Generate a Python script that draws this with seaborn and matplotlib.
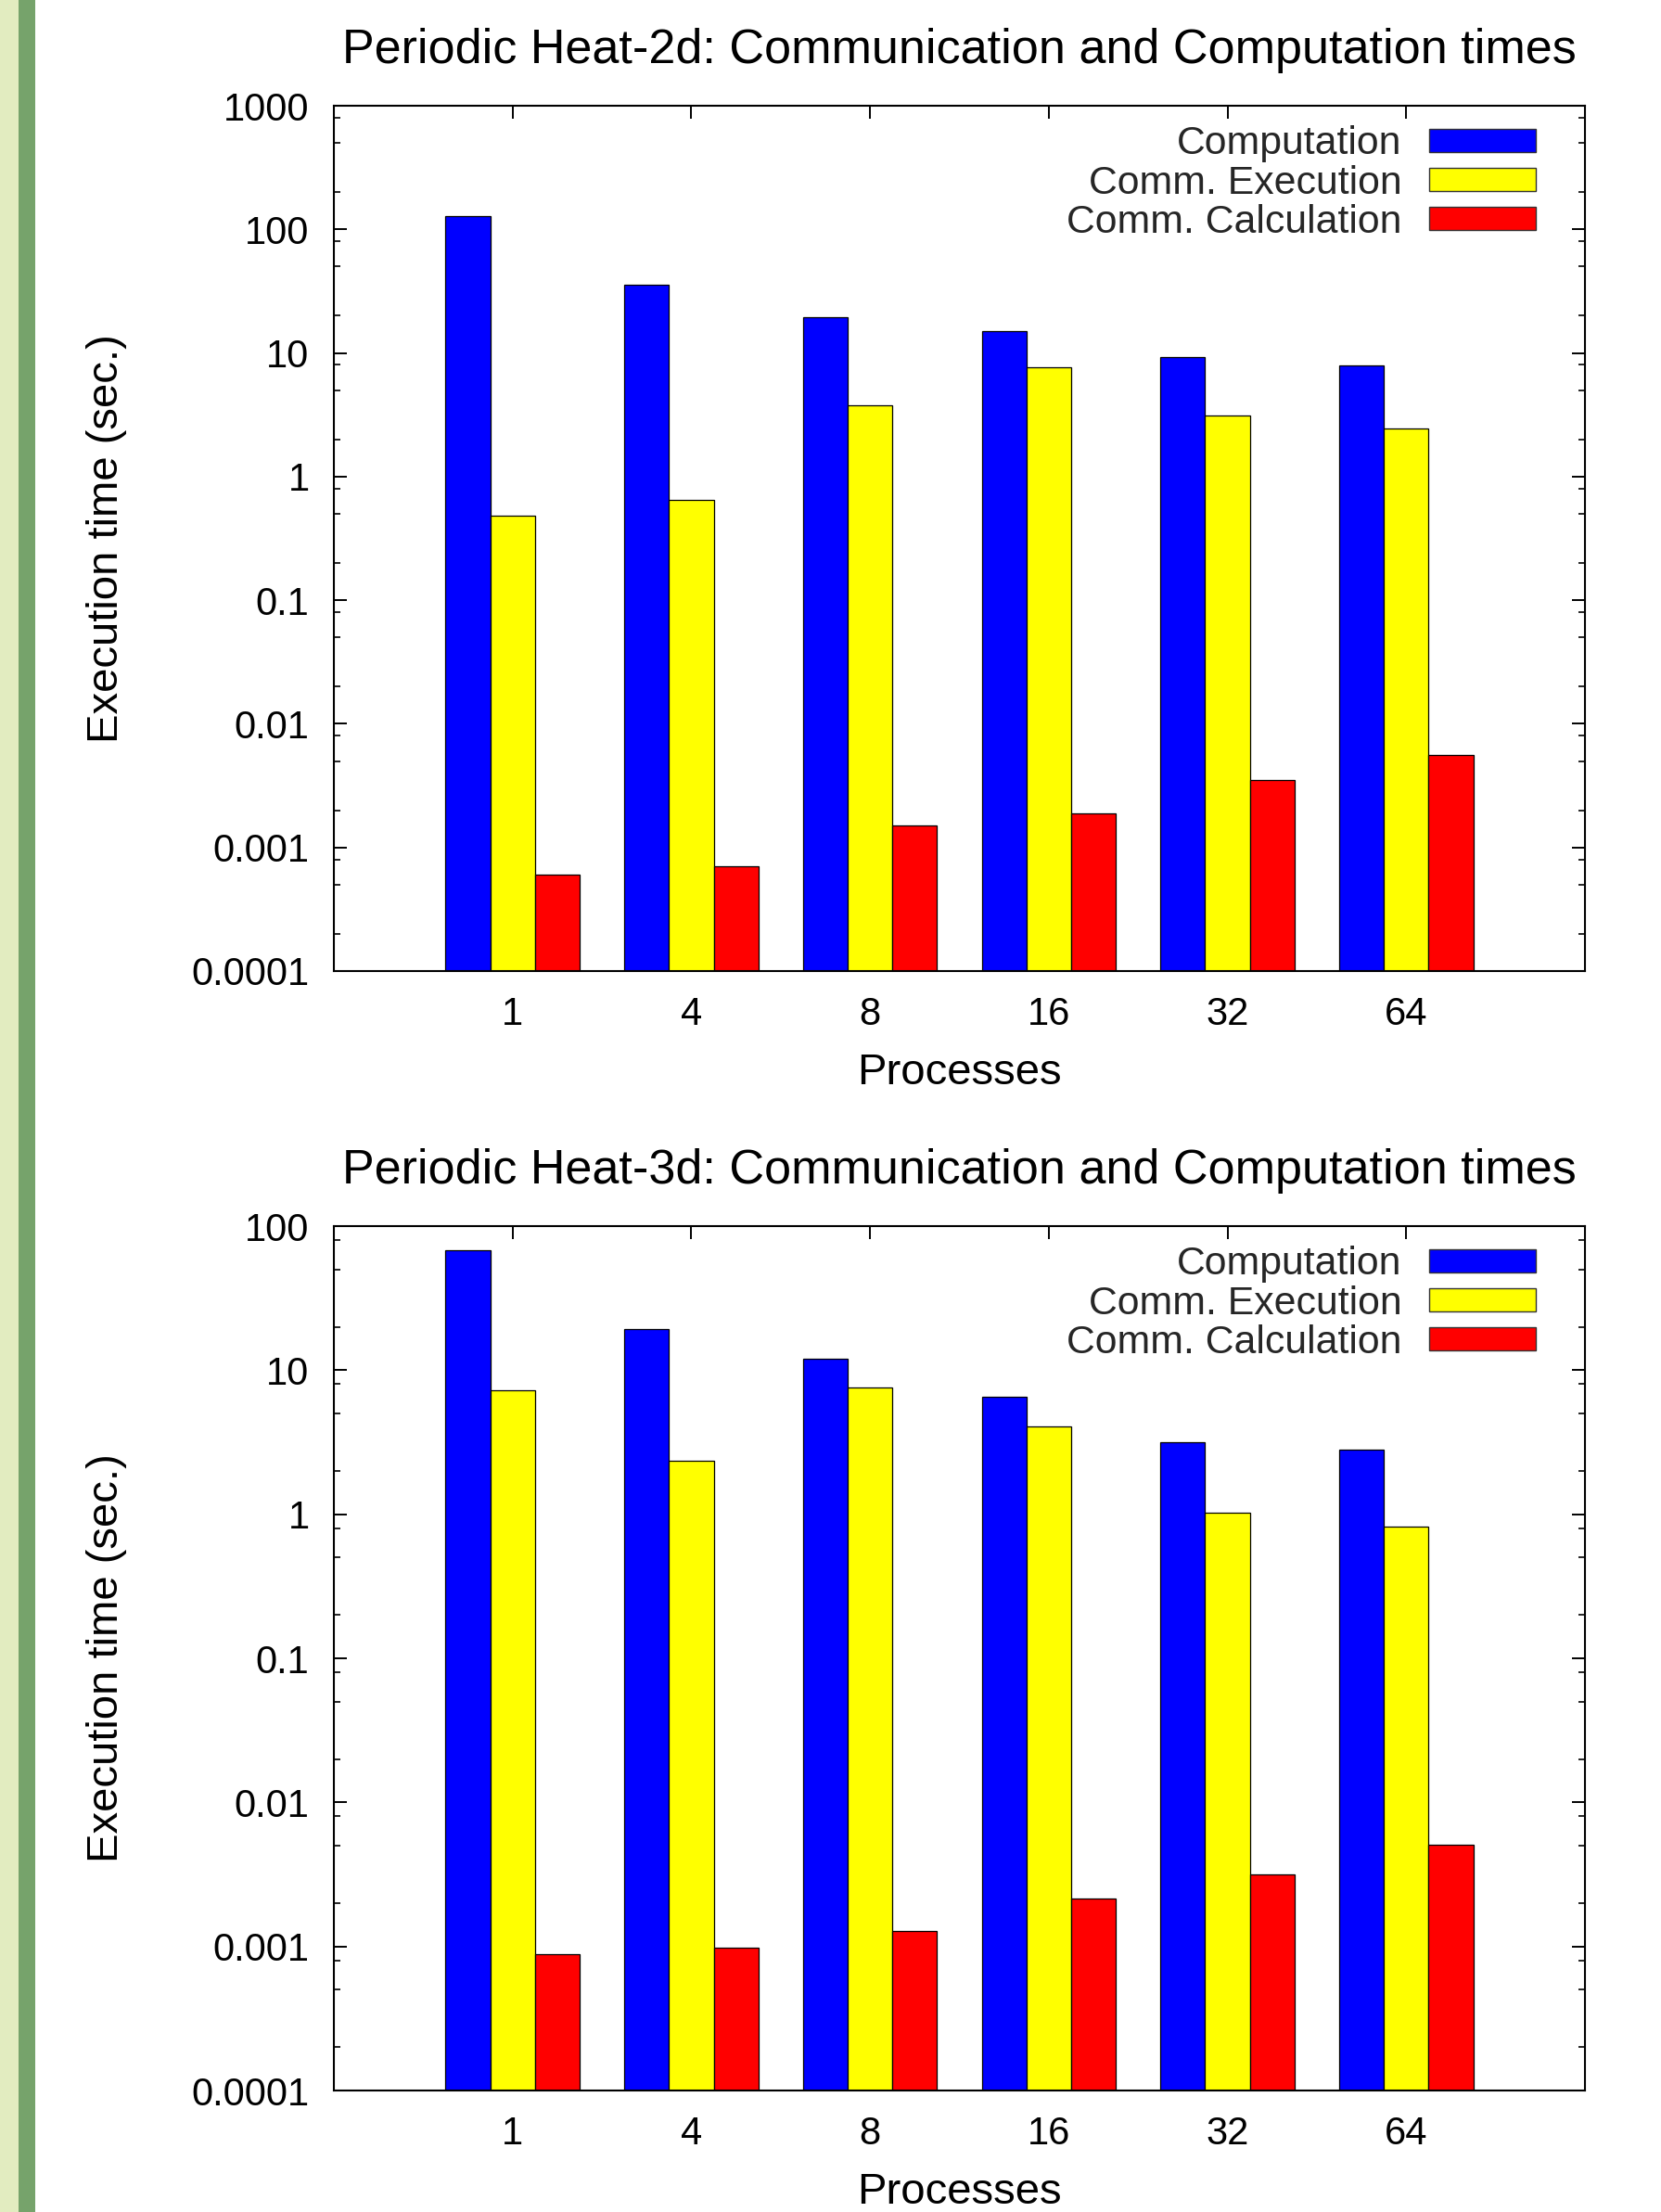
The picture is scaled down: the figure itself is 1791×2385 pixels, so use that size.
import numpy as np
import pandas as pd
import matplotlib
matplotlib.use("Agg")
import matplotlib.pyplot as plt
from matplotlib.patches import Rectangle
from matplotlib.ticker import LogLocator, NullFormatter
import seaborn as sns

# ---------------- data ----------------
processes = ["1", "4", "8", "16", "32", "64"]
series_names = ["Computation", "Comm. Execution", "Comm. Calculation"]
series_colors = ["#0000ff", "#ffff00", "#ff0000"]

heat2d_computation = [129, 35.5, 19.4, 14.9, 9.3, 7.9]
heat2d_comm_exec = [0.48, 0.65, 3.8, 7.7, 3.1, 2.43]
heat2d_comm_calc = [0.0006, 0.0007, 0.0015, 0.0019, 0.0035, 0.0056]

heat3d_computation = [68, 19.2, 12.0, 6.5, 3.16, 2.82]
heat3d_comm_exec = [7.3, 2.36, 7.6, 4.05, 1.02, 0.82]
heat3d_comm_calc = [0.00089, 0.00098, 0.00128, 0.00215, 0.00316, 0.0051]

titles = ["Periodic Heat-2d: Communication and Computation times",
          "Periodic Heat-3d: Communication and Computation times"]
yticks_sets = [[0.0001, 0.001, 0.01, 0.1, 1, 10, 100, 1000],
               [0.0001, 0.001, 0.01, 0.1, 1, 10, 100]]
ytick_labels_sets = [["0.0001", "0.001", "0.01", "0.1", "1", "10", "100", "1000"],
                     ["0.0001", "0.001", "0.01", "0.1", "1", "10", "100"]]
xlabel = "Processes"
ylabel = "Execution time (sec.)"


def long_frame(comp, cexec, ccalc):
    rows = []
    for name, vals in zip(series_names, [comp, cexec, ccalc]):
        for p, v in zip(processes, vals):
            rows.append({"Processes": p, "Series": name, "Time": v})
    return pd.DataFrame(rows)


frames = [long_frame(heat2d_computation, heat2d_comm_exec, heat2d_comm_calc),
          long_frame(heat3d_computation, heat3d_comm_exec, heat3d_comm_calc)]

# ---------------- style ----------------
sns.set_theme(style="white")
plt.rcParams["font.family"] = ["Liberation Sans", "DejaVu Sans"]

W, H = 1791, 2385
fig = plt.figure(figsize=(W / 100, H / 100), dpi=100)
fig.patch.set_facecolor("white")

# decorative side bands
fig.patches.append(Rectangle((0, 0), 20 / W, 1, transform=fig.transFigure,
                             facecolor="#e2ecc0", edgecolor="none", zorder=0))
fig.patches.append(Rectangle((20 / W, 0), 18 / W, 1, transform=fig.transFigure,
                             facecolor="#76a36b", edgecolor="none", zorder=0))

ax_left = 360 / W
ax_width = (1709 - 360) / W
positions = [(114, 1047), (1322, 2254)]

FS = 30
for i, df in enumerate(frames):
    top, bottom = positions[i]
    ax = fig.add_axes([ax_left, 1 - bottom / H, ax_width, (bottom - top) / H])
    ax.set_yscale("log")
    sns.barplot(data=df, x="Processes", y="Time", hue="Series",
                order=processes, hue_order=series_names,
                palette=series_colors, saturation=1, width=0.75, gap=0,
                edgecolor="black", linewidth=0.9, ax=ax)

    for s in ax.spines.values():
        s.set_visible(True)
        s.set_color("black")
        s.set_linewidth(1.5)

    ax.set_yticks(yticks_sets[i])
    ax.set_yticklabels(ytick_labels_sets[i])
    ax.yaxis.set_minor_locator(LogLocator(base=10, subs=[2, 5, 8], numticks=20))
    ax.yaxis.set_minor_formatter(NullFormatter())
    ax.set_ylim(yticks_sets[i][0], yticks_sets[i][-1])
    ax.set_xlim(-1, len(processes))

    ax.tick_params(axis="y", which="major", direction="in", length=10, width=1.4,
                   left=True, right=True, labelsize=FS, pad=19, colors="black")
    ax.tick_params(axis="y", which="minor", direction="in", length=5, width=1.4,
                   left=True, right=True)
    ax.tick_params(axis="x", which="major", direction="in", length=10, width=1.4,
                   bottom=False, top=True, labelsize=FS, pad=19.5, colors="black")

    ax.set_title(titles[i], fontsize=37.5, pad=33, color="black")
    ax.set_xlabel(xlabel, fontsize=34, color="black")
    ax.set_ylabel(ylabel, fontsize=34, color="black")
    ax.xaxis.set_label_coords(0.5, -0.0945)
    ax.yaxis.set_label_coords(-0.165, 0.5)

    old = ax.get_legend()
    handles = old.legend_handles
    labels = [t.get_text() for t in old.get_texts()]
    for h in handles:
        h.set_edgecolor("#333333")
        h.set_linewidth(1.0)
    ax.legend(handles, labels, loc="upper right",
              bbox_to_anchor=(1 - 53 / (1709 - 360), 0.977),
              frameon=False, markerfirst=False, fontsize=30.8,
              handlelength=116 / 43, handleheight=22 / 43,
              handletextpad=29 / 43, labelspacing=0.05,
              borderpad=0, borderaxespad=0)

fig.savefig("out.png", dpi=100)
